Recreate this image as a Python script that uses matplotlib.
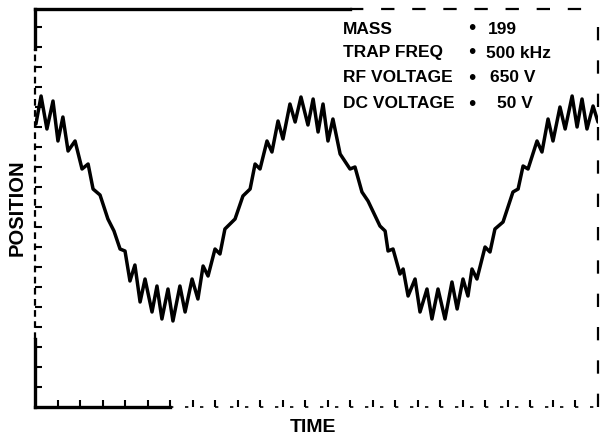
import matplotlib.pyplot as plt

# ion trajectory: time (arb. units) vs position (arb. units)
time = [0.04, 0.27, 0.53, 0.80, 1.02, 1.24, 1.47, 1.78, 2.09, 2.36,
        2.58, 2.89, 3.24, 3.51, 3.78, 4.00, 4.22, 4.44, 4.67, 4.89,
        5.20, 5.42, 5.64, 5.91, 6.13, 6.44, 6.67, 6.98, 7.24, 7.47,
        7.69, 8.00, 8.22, 8.44, 8.89, 9.24, 9.56, 9.78, 10.00, 10.31,
        10.53, 10.80, 11.02, 11.33, 11.56, 11.82, 12.13, 12.36, 12.58, 12.80,
        13.02, 13.24, 13.56, 14.00, 14.22, 14.53, 14.80, 15.33, 15.56, 15.69,
        15.91, 16.22, 16.36, 16.58, 16.89, 17.11, 17.42, 17.64, 17.91, 18.22,
        18.53, 18.76, 19.02, 19.24, 19.42, 19.64, 20.00, 20.22, 20.44, 20.80,
        21.24, 21.47, 21.69, 21.91, 22.31, 22.53, 22.80, 23.02, 23.33, 23.56,
        23.87, 24.09, 24.31, 24.53, 24.80, 25.02]
position = [14.15, 15.55, 13.90, 15.30, 13.30, 14.50, 12.80, 13.30, 11.90, 12.15,
            10.90, 10.60, 9.40, 8.80, 7.90, 7.80, 6.30, 7.10, 5.25, 6.40,
            4.75, 6.05, 4.40, 5.90, 4.30, 6.05, 4.75, 6.40, 5.40, 7.05,
            6.55, 7.90, 7.65, 8.90, 9.40, 10.55, 10.90, 12.15, 11.90, 13.30,
            12.75, 14.30, 13.40, 15.15, 14.25, 15.50, 14.10, 15.40, 13.75, 15.15,
            13.30, 14.40, 12.65, 11.90, 12.00, 10.75, 10.30, 9.05, 8.80, 7.80,
            7.90, 6.65, 6.90, 5.55, 6.40, 4.75, 5.90, 4.40, 5.90, 4.40,
            6.25, 4.90, 6.40, 5.55, 6.90, 6.40, 8.00, 7.75, 8.90, 9.25,
            10.75, 10.90, 12.05, 11.90, 13.30, 12.75, 14.40, 13.30, 15.00, 13.90,
            15.55, 14.00, 15.40, 13.90, 15.05, 14.25]

# trap parameters
param_names = ["MASS", "TRAP FREQ", "RF VOLTAGE", "DC VOLTAGE"]
param_values = ["199", "500 kHz", "650 V", "50 V"]

font = ['Liberation Sans', 'DejaVu Sans']

fig = plt.figure(figsize=(6, 4.39), dpi=100)
ax = fig.add_axes([35/600, 31/439, 563/600, 398/439])

ax.plot(time, position, color='black', lw=2.5, solid_joinstyle='round',
        solid_capstyle='round')

ax.set_xlim(0, 25.02)
ax.set_ylim(0, 19.9)
ax.set_xticks(range(1, 25))
ax.set_yticks(range(1, 20))
ax.tick_params(direction='in', length=5, width=1.5, color='black',
               labelbottom=False, labelleft=False)

# frame: solid at the corners, broken elsewhere
for s in ax.spines.values():
    s.set_visible(False)
ax.axvline(0, 0, 0.17, color='black', lw=2.4, clip_on=False)
ax.axvline(0, 0.17, 0.9, color='black', lw=1.6, ls=(0, (3, 2)), clip_on=False)
ax.axvline(0, 0.9, 1, color='black', lw=2.4, clip_on=False)
ax.axhline(0, 0, 0.24, color='black', lw=2.4, clip_on=False)
ax.axhline(0, 0.24, 1, color='black', lw=1.2, ls=(0, (2, 7)), clip_on=False)
ax.axhline(19.9, 0, 0.56, color='black', lw=2.4, clip_on=False)
ax.axhline(19.9, 0.56, 1, color='black', lw=1.6, ls=(0, (6, 8)), clip_on=False)
ax.axvline(25.02, 0, 1, color='black', lw=1.6, ls=(0, (6, 9)), clip_on=False)

row_y = [18.95, 17.75, 16.5, 15.2]
value_x = [20.13, 20.05, 20.22, 20.53]
for i in range(len(param_names)):
    ax.text(13.69, row_y[i], param_names[i], family=font, weight='bold',
            fontsize=12.5, va='center', ha='left')
    ax.text(19.42, row_y[i], '\u2022', family=font, fontsize=15,
            va='center', ha='center')
    ax.text(value_x[i], row_y[i], param_values[i], family=font, weight='bold',
            fontsize=12.5, va='center', ha='left')

fig.text(17/600, 1 - 208/439, "POSITION", family=font, weight='bold',
         fontsize=14.5, rotation=90, ha='center', va='center')
fig.text(313/600, 1 - 428/439, "TIME", family=font, weight='bold',
         fontsize=14, ha='center', va='center')

fig.savefig('out.png', dpi=100)
